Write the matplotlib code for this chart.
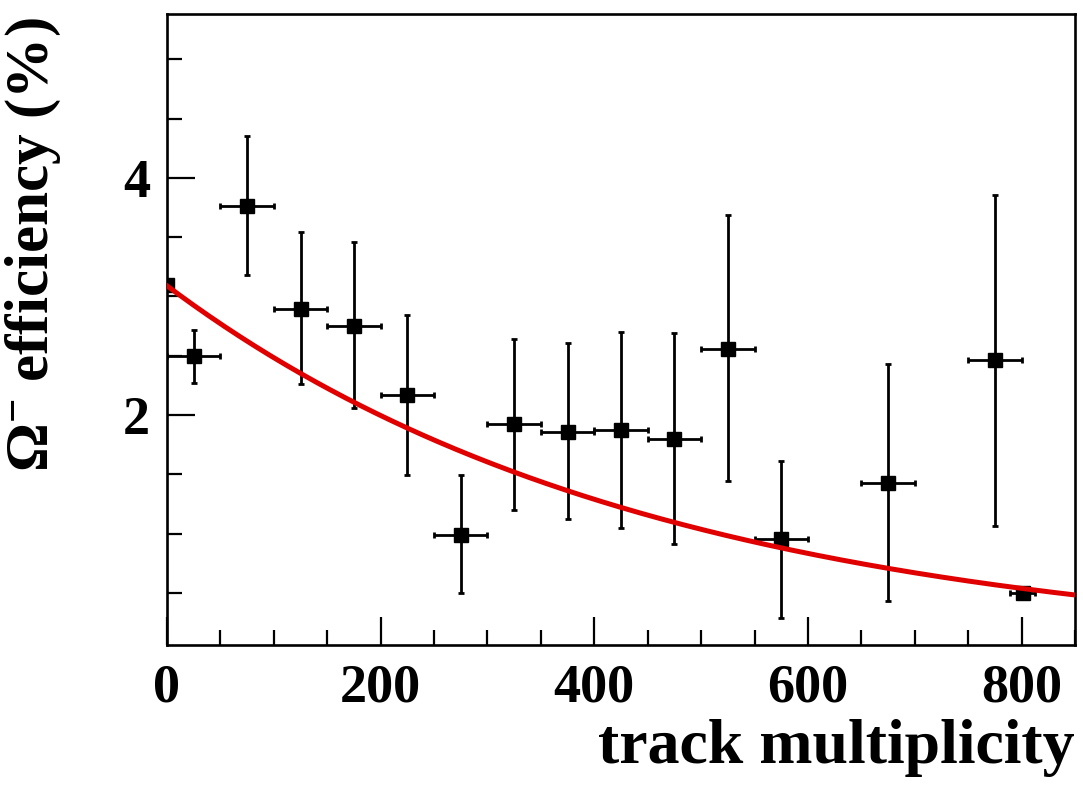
import matplotlib
matplotlib.use("Agg")
import matplotlib.pyplot as plt
import numpy as np

# data
mult = [0, 25, 75, 125, 175, 225, 275, 325, 375, 425, 475, 525, 575, 675, 775, 801]
mult_err = [0, 25, 25, 25, 25, 25, 25, 25, 25, 25, 25, 25, 25, 25, 25, 12]
eff = [3.10, 2.50, 3.76, 2.89, 2.75, 2.17, 0.99, 1.92, 1.86, 1.87, 1.80, 2.56, 0.95, 1.43, 2.46, 0.50]
eff_hi = [3.10, 2.72, 4.35, 3.54, 3.46, 2.84, 1.49, 2.64, 2.61, 2.70, 2.69, 3.69, 1.61, 2.43, 3.86, 0.55]
eff_lo = [3.10, 2.27, 3.18, 2.26, 2.06, 1.49, 0.50, 1.20, 1.12, 1.05, 0.91, 1.44, 0.29, 0.43, 1.06, 0.45]

# exponential fit  y = fit_a * exp(-fit_b * x)
fit_a = 3.09
fit_b = 0.002186

plt.rcParams['font.family'] = 'Liberation Serif'
plt.rcParams['font.weight'] = 'bold'
plt.rcParams['mathtext.fontset'] = 'custom'
plt.rcParams['mathtext.rm'] = 'Liberation Serif:bold'
plt.rcParams['mathtext.it'] = 'Liberation Serif:bold'
plt.rcParams['mathtext.bf'] = 'Liberation Serif:bold'

fig = plt.figure(figsize=(10.83, 7.86), dpi=100)
ax = fig.add_axes([0.1542, 0.1794, 0.8384, 0.8024])

eff = np.array(eff)
yerr = [eff - np.array(eff_lo), np.array(eff_hi) - eff]
ax.errorbar(mult, eff, xerr=mult_err, yerr=yerr, fmt='s', color='black',
            markersize=9.5, elinewidth=2.0, capsize=2.5, capthick=2.0, zorder=3)

xf = np.linspace(0, 850, 300)
ax.plot(xf, fit_a * np.exp(-fit_b * xf), color='#e00000', lw=3.6, zorder=4)

ax.set_xlim(0, 850)
ax.set_ylim(0.06, 5.38)
ax.set_xticks([0, 200, 400, 600, 800])
ax.set_xticks(np.arange(0, 851, 50), minor=True)
ax.set_yticks([2, 4])
ax.set_yticks(np.arange(0.5, 5.4, 0.5), minor=True)

ax.tick_params(which='both', direction='in', top=False, right=False, width=1.6)
ax.tick_params(which='major', length=20, labelsize=39)
ax.tick_params(which='minor', length=11)
ax.tick_params(axis='x', which='major', pad=13)
ax.tick_params(axis='y', which='major', pad=12)
for s in ax.spines.values():
    s.set_linewidth(1.9)

ax.set_xlabel('track multiplicity', fontsize=46, fontweight='bold', loc='right')
ax.xaxis.set_label_coords(1.0, -0.118)
ax.set_ylabel(r'$\Omega^{-}$ efficiency (%)', fontsize=44, fontweight='bold', loc='top')
ax.yaxis.set_label_coords(-0.115, 0.995)

fig.savefig('out.png', dpi=100)
